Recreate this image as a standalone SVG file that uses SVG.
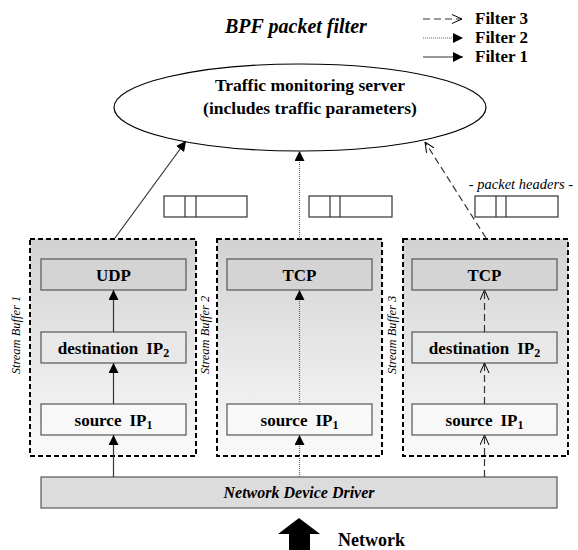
<svg xmlns="http://www.w3.org/2000/svg" width="578" height="550" viewBox="0 0 578 550">
  <style>
    text { font-family: 'Liberation Serif', 'DejaVu Serif', serif; fill: #000; }
    .b { font-weight: bold; }
    .i { font-style: italic; }
    .buf { fill: url(#bufGrad); stroke: #000; stroke-width: 2; stroke-dasharray: 5 3; }
    .box { stroke: #555; stroke-width: 1.2; }
    .hdr { fill: #fff; stroke: #333; stroke-width: 1.2; }
    .solid { stroke: #333; stroke-width: 1.2; fill: none; }
    .dot { stroke: #666; stroke-width: 1.2; stroke-dasharray: 1 1; fill: none; }
    .dash { stroke: #333; stroke-width: 1.2; stroke-dasharray: 7 4; fill: none; }
  </style>
  <defs>
    <linearGradient id="bufGrad" x1="0" y1="0" x2="0" y2="1">
      <stop offset="0" stop-color="#d2d2d2"/>
      <stop offset="1" stop-color="#fafafa"/>
    </linearGradient>
    <marker id="headFill" viewBox="0 0 10 10" refX="10" refY="5" markerWidth="10" markerHeight="10" markerUnits="userSpaceOnUse" orient="auto">
      <path d="M0,0 L10,5 L0,10 Z" fill="#000"/>
    </marker>
    <marker id="headOpen" viewBox="0 0 10 10" refX="10" refY="5" markerWidth="10" markerHeight="10" markerUnits="userSpaceOnUse" orient="auto">
      <path d="M0,0.5 L10,5 L0,9.5" fill="none" stroke="#000" stroke-width="1"/>
    </marker>
  </defs>

  <!-- title -->
  <text class="b i" x="225" y="33" font-size="20">BPF packet filter</text>

  <!-- legend -->
  <g id="legend">
    <line class="dash" x1="423" y1="19" x2="462" y2="19" stroke="#000" marker-end="url(#headOpen)"/>
    <text class="b" x="475" y="24" font-size="17">Filter 3</text>
    <line class="dot" x1="423" y1="38" x2="463" y2="38" marker-end="url(#headFill)"/>
    <text class="b" x="475" y="43" font-size="17">Filter 2</text>
    <line class="solid" x1="423" y1="57" x2="463" y2="57" marker-end="url(#headFill)"/>
    <text class="b" x="475" y="62" font-size="17">Filter 1</text>
  </g>

  <!-- monitoring server -->
  <g id="server">
    <ellipse cx="300" cy="107.5" rx="186" ry="43.5" fill="#fff" stroke="#000" stroke-width="1.2"/>
    <text class="b" x="310" y="91" font-size="17.5" text-anchor="middle">Traffic monitoring server</text>
    <text class="b" x="310" y="114" font-size="17.5" text-anchor="middle">(includes traffic parameters)</text>
  </g>

  <!-- packet headers -->
  <g id="headers">
    <text class="i" x="521" y="189" font-size="14.5" text-anchor="middle">- packet headers -</text>
    <rect class="hdr" x="164" y="196" width="83" height="21"/>
    <line class="hdr" x1="185" y1="196" x2="185" y2="217"/>
    <line class="hdr" x1="196" y1="196" x2="196" y2="217"/>
    <rect class="hdr" x="309" y="196" width="83" height="21"/>
    <line class="hdr" x1="330" y1="196" x2="330" y2="217"/>
    <line class="hdr" x1="340" y1="196" x2="340" y2="217"/>
    <rect class="hdr" x="475" y="196" width="83" height="21"/>
    <line class="hdr" x1="496" y1="196" x2="496" y2="217"/>
    <line class="hdr" x1="506" y1="196" x2="506" y2="217"/>
  </g>

  <!-- stream buffer 1 -->
  <g id="buffer1">
    <rect class="buf" x="30" y="239" width="166" height="217"/>
    <text class="i" transform="translate(20,335) rotate(-90)" font-size="12.5" text-anchor="middle">Stream Buffer 1</text>
    <rect class="box" x="41" y="259" width="145" height="31" fill="#d4d4d4"/>
    <text class="b" x="113.5" y="281" font-size="17" text-anchor="middle">UDP</text>
    <rect class="box" x="41" y="332" width="145" height="31" fill="#e8e8e8"/>
    <text class="b" x="113.5" y="354" font-size="17" text-anchor="middle">destination<tspan dx="8">IP</tspan><tspan font-size="12" dy="3">2</tspan></text>
    <rect class="box" x="41" y="404" width="145" height="31" fill="#f8f8f8"/>
    <text class="b" x="113.5" y="426" font-size="17" text-anchor="middle">source<tspan dx="8">IP</tspan><tspan font-size="12" dy="3">1</tspan></text>
  </g>

  <!-- stream buffer 2 -->
  <g id="buffer2">
    <rect class="buf" x="217" y="239" width="165" height="217"/>
    <text class="i" transform="translate(209,335) rotate(-90)" font-size="12.5" text-anchor="middle">Stream Buffer 2</text>
    <rect class="box" x="227" y="259" width="145" height="31" fill="#d4d4d4"/>
    <text class="b" x="299.5" y="281" font-size="17" text-anchor="middle">TCP</text>
    <rect class="box" x="227" y="404" width="145" height="31" fill="#f8f8f8"/>
    <text class="b" x="299.5" y="426" font-size="17" text-anchor="middle">source<tspan dx="8">IP</tspan><tspan font-size="12" dy="3">1</tspan></text>
  </g>

  <!-- stream buffer 3 -->
  <g id="buffer3">
    <rect class="buf" x="403" y="239" width="165" height="217"/>
    <text class="i" transform="translate(396,335) rotate(-90)" font-size="12.5" text-anchor="middle">Stream Buffer 3</text>
    <rect class="box" x="412" y="259" width="145" height="31" fill="#d4d4d4"/>
    <text class="b" x="484.5" y="281" font-size="17" text-anchor="middle">TCP</text>
    <rect class="box" x="412" y="332" width="145" height="31" fill="#e8e8e8"/>
    <text class="b" x="484.5" y="354" font-size="17" text-anchor="middle">destination<tspan dx="8">IP</tspan><tspan font-size="12" dy="3">2</tspan></text>
    <rect class="box" x="412" y="404" width="145" height="31" fill="#f8f8f8"/>
    <text class="b" x="484.5" y="426" font-size="17" text-anchor="middle">source<tspan dx="8">IP</tspan><tspan font-size="12" dy="3">1</tspan></text>
  </g>

  <!-- device driver -->
  <g id="driver">
    <rect x="41" y="477" width="516" height="31" fill="#dcdcdc" stroke="#555" stroke-width="1.2"/>
    <text class="b i" x="299" y="498" font-size="16" text-anchor="middle">Network Device Driver</text>
  </g>

  <!-- network input -->
  <g id="network">
    <polygon points="299,518 320,534 310,534 310,550 289,550 289,534 278,534" fill="#000"/>
    <text class="b" x="338" y="546" font-size="18">Network</text>
  </g>

  <!-- connectors -->
  <g id="connectors">
    <!-- filter 1 -->
    <line class="solid" x1="113.5" y1="477" x2="113.5" y2="435" marker-end="url(#headFill)"/>
    <line class="solid" x1="113.5" y1="404" x2="113.5" y2="363" marker-end="url(#headFill)"/>
    <line class="solid" x1="113.5" y1="332" x2="113.5" y2="290" marker-end="url(#headFill)"/>
    <line class="solid" x1="115" y1="238" x2="186" y2="141" marker-end="url(#headFill)"/>
    <!-- filter 2 -->
    <line class="dot" x1="299.5" y1="477" x2="299.5" y2="435" marker-end="url(#headFill)"/>
    <line class="dot" x1="299.5" y1="404" x2="299.5" y2="290" marker-end="url(#headFill)"/>
    <line class="dot" x1="299.5" y1="239" x2="299.5" y2="151" marker-end="url(#headFill)"/>
    <!-- filter 3 -->
    <line class="dash" x1="484.5" y1="477" x2="484.5" y2="435" marker-end="url(#headOpen)"/>
    <line class="dash" x1="484.5" y1="404" x2="484.5" y2="363" marker-end="url(#headOpen)"/>
    <line class="dash" x1="484.5" y1="332" x2="484.5" y2="290" marker-end="url(#headOpen)"/>
    <line class="dash" x1="486" y1="238" x2="425" y2="142" marker-end="url(#headOpen)"/>
  </g>
</svg>
